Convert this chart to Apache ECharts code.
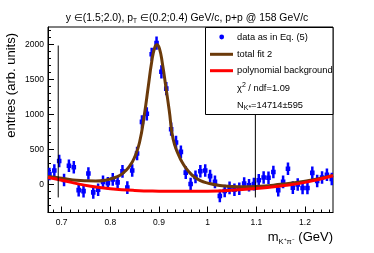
<!DOCTYPE html>
<html><head><meta charset="utf-8">
<script src="https://cdn.jsdelivr.net/npm/echarts@6/dist/echarts.min.js"></script>
<style>html,body{margin:0;padding:0;background:#fff}#c{width:374px;height:253px}</style>
</head><body><div id="c"></div>
<script>
// ---- data ----
const massBins = [0.675,0.685,0.695,0.705,0.715,0.725,0.735,0.745,0.755,0.765,0.775,0.785,0.795,0.805,0.815,0.825,0.835,0.845,0.855,0.865,0.875,0.885,0.895,0.905,0.915,0.925,0.935,0.945,0.955,0.965,0.975,0.985,0.995,1.005,1.015,1.025,1.035,1.045,1.055,1.065,1.075,1.085,1.095,1.105,1.115,1.125,1.135,1.145,1.155,1.165,1.175,1.185,1.195,1.205,1.215,1.225,1.235,1.245,1.255];
const counts = [150,200,335,65,268,247,-80,-95,157,-113,-76,37,18,73,30,187,-45,199,443,895,1010,1860,2020,1610,1370,790,600,466,170,8,109,190,200,120,37,-165,-93,-48,-76,-60,15,-10,5,61,100,97,178,-81,37,224,-45,0,-49,-49,166,50,100,140,78];
const errors = [90,90,90,90,90,90,90,90,90,90,90,90,90,90,90,90,90,90,95,95,95,95,95,95,95,95,95,90,90,90,90,90,90,90,90,90,90,90,90,90,90,90,90,90,90,90,90,90,90,90,90,90,90,90,90,90,90,90,90];
const fitMass  = [0.672,0.69,0.71,0.73,0.75,0.77,0.79,0.81,0.825,0.84,0.85,0.86,0.87,0.878,0.885,0.891,0.896,0.901,0.907,0.914,0.921,0.929,0.94,0.95,0.96,0.97,0.985,1.0,1.025,1.05,1.075,1.1,1.15,1.2,1.2575];
const fitTotal = [115,100,78,60,52,50,62,100,155,265,390,600,1000,1400,1750,1950,1995,1940,1730,1400,1060,650,425,290,195,122,55,20,-15,-28,-32,-28,2,45,130];
const bkgMass  = [0.672,0.70,0.72,0.76,0.80,0.85,0.90,0.95,1.0,1.05,1.10,1.15,1.20,1.2575];
const bkgValue = [100,62,30,-25,-60,-85,-95,-98,-95,-82,-58,-20,30,125];
const fitRangeX = [0.693, 1.098];
const fitRangeY = [-185, 1985];
const xMajorTicks = [0.7,0.8,0.9,1.0,1.1,1.2];
const xMinorTicks = [0.6833,0.7167,0.7333,0.75,0.7667,0.7833,0.8167,0.8333,0.85,0.8667,0.8833,0.9167,0.9333,0.95,0.9667,0.9833,1.0167,1.0333,1.05,1.0667,1.0833,1.1167,1.1333,1.15,1.1667,1.1833,1.2167,1.2333,1.25];
const yMajorTicks = [0,500,1000,1500,2000];
const yMinorTicks = [-300,-200,-100,100,200,300,400,600,700,800,900,1100,1200,1300,1400,1600,1700,1800,1900,2100,2200];
const xMin = 0.672, xMax = 1.2575, yMin = -400, yMax = 2250;

const FONT = '"Liberation Sans", Arial, Helvetica, sans-serif';
const chart = echarts.init(document.getElementById('c'), null, {renderer:'canvas'});

function vAxis(major){
  return {
    type:'value', min:yMin, max:yMax, position:'left',
    axisLine:{show:major, lineStyle:{color:'#000', width:1}},
    axisTick:{show:true, inside:true, length: major?6:3, customValues: major?yMajorTicks:yMinorTicks, lineStyle:{color:'#000', width:1}},
    axisLabel:{show:major, customValues: yMajorTicks, color:'#000', fontSize:8.5, fontFamily:FONT, margin:4, formatter: v=>String(v)},
    splitLine:{show:false}
  };
}
function hAxis(major){
  return {
    type:'value', min:xMin, max:xMax, position:'bottom',
    axisLine:{show:major, onZero:false, lineStyle:{color:'#000', width:1}},
    axisTick:{show:true, inside:true, length: major?6:3, customValues: major?xMajorTicks:xMinorTicks, lineStyle:{color:'#000', width:1}},
    axisLabel:{show:major, customValues: xMajorTicks, color:'#000', fontSize:8.5, fontFamily:FONT, margin:6, formatter: v=>String(parseFloat(Number(v).toFixed(2)))},
    splitLine:{show:false}
  };
}

const subStyle = {fontSize:7, lineHeight:8, verticalAlign:'bottom', fontFamily:FONT, color:'#000'};
const supStyle = {fontSize:7, lineHeight:8, verticalAlign:'top', fontFamily:FONT, color:'#000'};

const option = {
  animation:false,
  backgroundColor:'#fff',
  title:{
    text:'{a|y ∈(1.5;2.0), p}{s|T}{a| ∈(0.2;0.4) GeV/c, p+p @ 158 GeV/c}',
    left:'center', top:6,
    textStyle:{fontSize:10.4, fontWeight:'normal', color:'#000', fontFamily:FONT,
      rich:{a:{fontSize:10.4, lineHeight:14, color:'#000', fontFamily:FONT}, s:{fontSize:6.5, lineHeight:7, verticalAlign:'bottom', color:'#000', fontFamily:FONT}}}
  },
  grid:{left:48, right:41, top:27, bottom:40.5, show:true, borderColor:'#000', borderWidth:1, backgroundColor:'transparent', containLabel:false, outerBoundsMode:'none'},
  xAxis:[hAxis(true), hAxis(false)],
  yAxis:[vAxis(true), vAxis(false)],
  series:[
    {
      name:'data as in Eq. (5)', type:'custom', xAxisIndex:0, yAxisIndex:0, z:2, clip:true,
      data: massBins.map((m,i)=>[m, counts[i], errors[i]]),
      encode:{x:0, y:1},
      renderItem:function(params, api){
        const m=api.value(0), v=api.value(1), e=api.value(2);
        const t=api.coord([m, v+e]), b=api.coord([m, v-e]), c=api.coord([m, v]);
        return {type:'group', children:[
          {type:'line', shape:{x1:t[0], y1:t[1], x2:b[0], y2:b[1]}, style:{stroke:'#0000ff', lineWidth:2.5}},
          {type:'rect', shape:{x:c[0]-2.3, y:c[1]-2.3, width:4.6, height:4.6}, style:{fill:'#0000ff'}}
        ]};
      }
    },
    {
      name:'total fit 2', type:'line', xAxisIndex:0, yAxisIndex:0, z:3,
      data: fitMass.map((m,i)=>[m, fitTotal[i]]),
      smooth:0.5, symbol:'none', lineStyle:{color:'#6b3a0a', width:3}
    },
    {
      name:'polynomial background', type:'line', xAxisIndex:0, yAxisIndex:0, z:4,
      data: bkgMass.map((m,i)=>[m, bkgValue[i]]),
      smooth:0.5, symbol:'none', lineStyle:{color:'#ff0000', width:3}
    },
    {
      name:'fit range low', type:'line', xAxisIndex:0, yAxisIndex:0, z:5,
      data:[[fitRangeX[0], fitRangeY[0]],[fitRangeX[0], fitRangeY[1]]],
      symbol:'none', lineStyle:{color:'#000', width:1}
    },
    {
      name:'fit range high', type:'line', xAxisIndex:0, yAxisIndex:0, z:5,
      data:[[fitRangeX[1], fitRangeY[0]],[fitRangeX[1], fitRangeY[1]]],
      symbol:'none', lineStyle:{color:'#000', width:1}
    }
  ],
  graphic:[
    {type:'rect', z:100, shape:{x:205.5, y:27.5, width:127.5, height:87}, style:{fill:'#fff', stroke:'#000', lineWidth:1}},
    {type:'circle', z:101, shape:{cx:221.7, cy:37, r:2.4}, style:{fill:'#0000ff'}},
    {type:'text', z:101, x:237, y:37, style:{text:'data as in Eq. (5)', fontSize:9.3, fontFamily:FONT, fill:'#000', verticalAlign:'middle', align:'left'}},
    {type:'line', z:101, shape:{x1:210, y1:54.3, x2:233, y2:54.3}, style:{stroke:'#6b3a0a', lineWidth:3}},
    {type:'text', z:101, x:237, y:54.3, style:{text:'total fit 2', fontSize:9.3, fontFamily:FONT, fill:'#000', verticalAlign:'middle', align:'left'}},
    {type:'line', z:101, shape:{x1:210, y1:70.7, x2:233, y2:70.7}, style:{stroke:'#ff0000', lineWidth:3}},
    {type:'text', z:101, x:237, y:70.7, style:{text:'polynomial background', fontSize:9.3, fontFamily:FONT, fill:'#000', verticalAlign:'middle', align:'left'}},
    {type:'text', z:101, x:237, y:88.3, style:{text:'{a|χ}{p|2}{a| / ndf=1.09}', fontSize:9.3, fontFamily:FONT, fill:'#000', verticalAlign:'middle', align:'left',
      rich:{a:{fontSize:9.3, lineHeight:13, fontFamily:FONT, color:'#000'}, p:supStyle}}},
    {type:'text', z:101, x:237, y:105, style:{text:'{a|N}{s|K*}{a|=14714±595}', fontSize:9.3, fontFamily:FONT, fill:'#000', verticalAlign:'middle', align:'left',
      rich:{a:{fontSize:9.3, lineHeight:13, fontFamily:FONT, color:'#000'}, s:subStyle}}},
    {type:'text', z:101, x:11, y:33, rotation:Math.PI/2, style:{text:'entries (arb. units)', fontSize:13, fontFamily:FONT, fill:'#000', align:'right', verticalAlign:'middle'}},
    {type:'text', z:101, x:333, y:237, style:{text:'{a|m}{s|K⁺π⁻}{a| (GeV)}', fontSize:13, fontFamily:FONT, fill:'#000', align:'right', verticalAlign:'middle',
      rich:{a:{fontSize:13, lineHeight:18, fontFamily:FONT, color:'#000'}, s:{fontSize:7.5, lineHeight:9, verticalAlign:'bottom', fontFamily:FONT, color:'#000'}}}}
  ]
};
chart.setOption(option);
</script>
</body></html>
